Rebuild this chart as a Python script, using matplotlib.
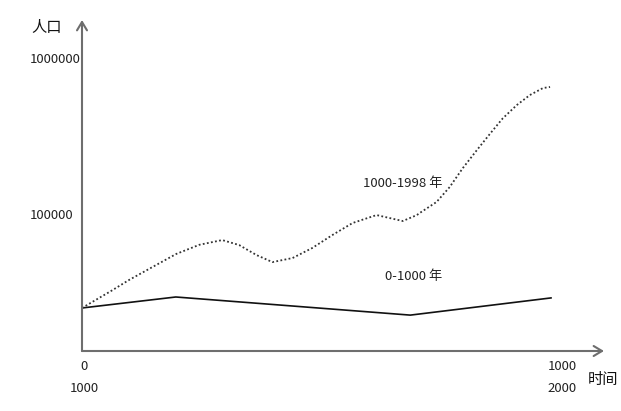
import matplotlib
matplotlib.use("Agg")
import matplotlib.pyplot as plt
import matplotlib.transforms as mtransforms

plt.rcParams['font.family'] = ['Noto Sans CJK SC', 'DejaVu Sans']

# ---- data ----
# 0-1000 年 (x = year)
solid_x = [0, 200, 700, 1000]
solid_y = [25000, 29400, 22500, 29000]

# 1000-1998 年 (x = year)
dot_years = [1000, 1064, 1100, 1150, 1201, 1250, 1299, 1335, 1372, 1406, 1449,
             1491, 1534, 1577, 1628, 1684, 1714, 1720, 1756, 1784, 1812, 1842,
             1870, 1897, 1927, 1955, 1983, 1998]
dot_pop = [25000, 32400, 37750, 45700, 55500, 63500, 68100, 63300, 54600, 49200, 52250,
           60600, 73400, 87600, 98500, 90200, 98500, 101500, 119500, 149000, 197000, 257000,
           327000, 410000, 499000, 579000, 642000, 652000]

xtick_pos = [0, 1000]
xtick_labels = ['0\n1000', '1000\n2000']
ytick_pos = [100000, 1000000]
ytick_labels = ['100000', '1000000']

label_solid = '0-1000 年'
label_dot = '1000-1998 年'

# ---- figure ----
fig = plt.figure(figsize=(6.21, 4.11), dpi=100)
ax = fig.add_axes([82/621, 60/411, 522/621, 331/411])

ax.plot(solid_x, solid_y, color='#111111', lw=1.2, solid_joinstyle='miter')
ax.plot([y - 1000 for y in dot_years], dot_pop, color='#333333', lw=1.3,
        linestyle=(0, (1, 1.3)))

ax.set_yscale('log')
ax.set_xlim(0, 1113)
ax.set_ylim(13250, 1752000)
ax.minorticks_off()

for s in ax.spines.values():
    s.set_visible(False)

ax.set_yticks(ytick_pos)
ax.set_yticklabels(ytick_labels)
ax.set_xticks(xtick_pos)
ax.set_xticklabels(xtick_labels, linespacing=1.85)
ax.tick_params(axis='both', length=0, labelsize=9.5, labelcolor='#222222')
ax.tick_params(axis='y', pad=37.4)
for t in ax.get_yticklabels():
    t.set_horizontalalignment('left')
ax.tick_params(axis='x', pad=6.5)
# shift x tick labels slightly, as in the original
xl = ax.get_xticklabels()
xl[1].set_transform(xl[1].get_transform() +
                    mtransforms.ScaledTranslation(11/100, 0, fig.dpi_scale_trans))
xl[0].set_transform(xl[0].get_transform() +
                    mtransforms.ScaledTranslation(2/100, 0, fig.dpi_scale_trans))

# axis arrows
arrow_kw = dict(arrowstyle='->,head_length=0.6,head_width=0.36', color='#6e6e6e',
                lw=1.5, shrinkA=0, shrinkB=0)
ax.annotate('', xy=(0, 1), xytext=(0, 0), xycoords='axes fraction',
            arrowprops=arrow_kw, annotation_clip=False)
ax.annotate('', xy=(1, 0), xytext=(0, 0), xycoords='axes fraction',
            arrowprops=arrow_kw, annotation_clip=False)

ax.set_ylabel('人口', rotation=0, fontsize=11, color='#111111', ha='center', va='center')
ax.yaxis.set_label_coords(-0.067, 0.976)
ax.set_xlabel('时间', fontsize=11, color='#111111', ha='center', va='center')
ax.xaxis.set_label_coords(0.998, -0.0846)

ax.text(769, 158000, label_dot, ha='right', va='center', fontsize=9.5, color='#222222')
ax.text(769, 39500, label_solid, ha='right', va='center', fontsize=9.5, color='#222222')

fig.savefig('out.png', dpi=100, facecolor='white')
